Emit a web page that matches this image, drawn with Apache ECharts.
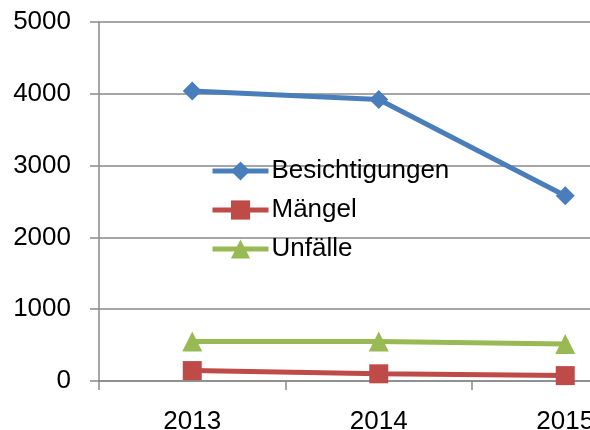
<!DOCTYPE html>
<html>
<head>
<meta charset="utf-8">
<script src="https://cdn.jsdelivr.net/npm/echarts@6/dist/echarts.min.js"></script>
<style>html,body{margin:0;padding:0;background:#fff}#c{width:590px;height:430px}</style>
</head>
<body>
<div id="c"></div>
<script>
const categories = ['2013', '2014', '2015'];
const besichtigungen = [4040, 3920, 2580];
const maengel = [145, 100, 75];
const unfaelle = [550, 550, 515];
const yTicks = [0, 1000, 2000, 3000, 4000, 5000];

const font = '"Liberation Sans", Arial, sans-serif';
const axisGray = '#898989';
const chart = echarts.init(document.getElementById('c'));
chart.setOption({
  animation: false,
  backgroundColor: '#fff',
  grid: { left: 99, top: 22, bottom: 49, width: 559.5, containLabel: false, outerBoundsMode: 'none' },
  xAxis: {
    type: 'category',
    data: categories,
    boundaryGap: true,
    axisLine: { lineStyle: { color: axisGray, width: 1.5 } },
    axisTick: { show: true, length: 9, inside: false, alignWithLabel: false, lineStyle: { color: axisGray, width: 1.5 } },
    axisLabel: { color: '#000', fontFamily: font, fontSize: 26, margin: 28 },
    splitLine: { show: false }
  },
  yAxis: {
    type: 'value',
    min: yTicks[0],
    max: yTicks[yTicks.length - 1],
    interval: 1000,
    axisLine: { show: true, lineStyle: { color: axisGray, width: 1.5 } },
    axisTick: { show: true, length: 9, lineStyle: { color: axisGray, width: 1.5 } },
    axisLabel: { color: '#000', fontFamily: font, fontSize: 26, margin: 28, formatter: function (v) { return String(v); } },
    splitLine: { show: true, lineStyle: { color: axisGray, width: 1.5 } }
  },
  legend: {
    orient: 'vertical',
    left: 210,
    top: 158,
    padding: 0,
    itemWidth: 56,
    itemHeight: 24,
    itemGap: 13,
    lineStyle: { width: 5 },
    textStyle: { fontFamily: font, fontSize: 26, color: '#000', lineHeight: 26, padding: [0, 0, 0, -2] },
    data: ['Besichtigungen', 'Mängel', 'Unfälle']
  },
  series: [
    {
      name: 'Besichtigungen', type: 'line', data: besichtigungen,
      symbol: 'diamond', symbolSize: 19,
      lineStyle: { color: '#4A7EBB', width: 5 },
      itemStyle: { color: '#4A7EBB' }
    },
    {
      name: 'Mängel', type: 'line', data: maengel,
      symbol: 'rect', symbolSize: 19,
      lineStyle: { color: '#BE4B48', width: 5 },
      itemStyle: { color: '#BE4B48' }
    },
    {
      name: 'Unfälle', type: 'line', data: unfaelle,
      symbol: 'triangle', symbolSize: 20,
      lineStyle: { color: '#98B954', width: 5 },
      itemStyle: { color: '#98B954' }
    }
  ]
});
</script>
</body>
</html>
